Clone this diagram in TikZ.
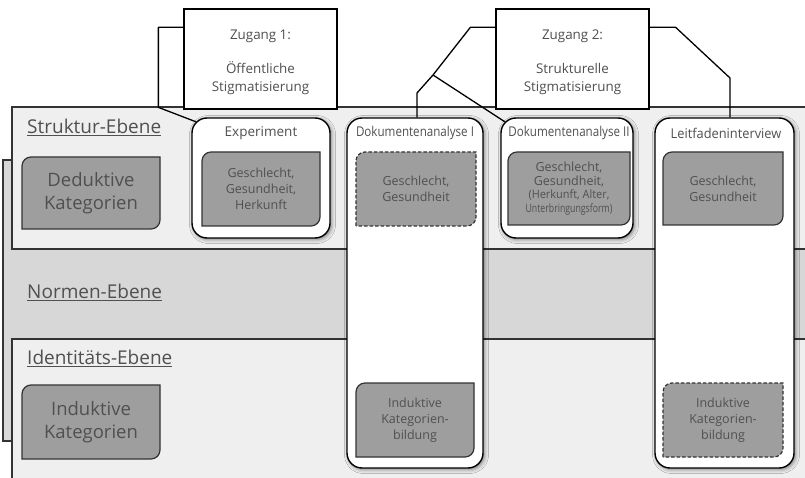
\documentclass[tikz,border=0pt]{standalone}
\usepackage{fontspec}
\setmainfont{Open Sans}
\usetikzlibrary{calc,shadows.blur}
\definecolor{txt}{HTML}{505050}
\definecolor{edge}{HTML}{333333}
\definecolor{normfill}{HTML}{D7D7D7}
\definecolor{levelfill}{HTML}{EFEFEF}
\definecolor{catfill}{HTML}{9E9E9E}

\newcommand\smallcond[2]{{\fontsize{11.5}{13}\selectfont\scalebox{#1}[1]{#2}}}

% category box: rounded at top left and bottom right only
% #1 name, #2 centre, #3 width, #4 height, #5 box style, #6 text style, #7 text
\newcommand\catbox[7]{%
  \draw[#5] ($#2+(-#3/2,-#4/2)$) -- ($#2+(-#3/2,#4/2-9)$)
    arc[start angle=180,end angle=90,radius=9pt]
    -- ($#2+(#3/2,#4/2)$) -- ($#2+(#3/2,-#4/2+9)$)
    arc[start angle=0,end angle=-90,radius=9pt] -- cycle;
  \node[#6] (#1) at #2 {#7};}

\tikzset{
  level/.style={draw=edge, line width=1.1pt},
  leveltitle/.style={anchor=west, text=txt, font=\fontsize{19}{21}\selectfont, inner sep=0},
  column/.style={draw=black, line width=1.4pt, fill=white, rounded corners=15pt,
    inner sep=0, blur shadow={shadow xshift=1.5pt, shadow yshift=-1.5pt,
    shadow blur radius=4pt, shadow opacity=50}},
  coltitle/.style={text=txt, font=\fontsize{13.5}{15}\selectfont, inner sep=0},
  zugang/.style={draw=black, line width=1.3pt, fill=white, minimum width=153pt,
    minimum height=100pt, inner sep=0},
  zugangtext/.style={align=center, text=txt, inner sep=0,
    font=\fontsize{13.4}{18}\selectfont},
  conn/.style={line width=1.3pt, line join=round},
  cat/.style={fill=catfill, draw=edge, line width=1.2pt},
  catdash/.style={cat, dash pattern=on 3.5pt off 2pt},
  ctext/.style={text=txt, font=\fontsize{12.5}{16}\selectfont, align=center, inner sep=0},
  bigtext/.style={text=txt, font=\fontsize{18.5}{23}\selectfont, align=center, inner sep=0},
}

\begin{document}
\begin{tikzpicture}[x=1pt,y=1pt]
\useasboundingbox (0,0) rectangle (805,477);

% the three levels
\begin{scope}
  \clip (0,0) rectangle (805,477);
  \draw[level, fill=normfill] (3,36) rectangle (830,317);
  \draw[level, fill=levelfill] (12,228) rectangle (830,370);
  \draw[level, fill=levelfill] (12,-20) rectangle (830,138);
\end{scope}

\node[leveltitle] (struktur) at (27,350) {\underline{Struktur-Ebene}};
\node[leveltitle] (normen) at (27,185) {\underline{Normen-Ebene}};
\node[leveltitle] (identitaet) at (27,119) {\underline{Identitäts-Ebene}};

\catbox{deduktiv}{(91,284)}{138}{72}{cat}{bigtext}{Deduktive\\Kategorien}
\catbox{induktiv}{(91,55)}{138}{74}{cat}{bigtext}{Induktive\\Kategorien}

% method columns
\node[column, minimum width=138pt, minimum height=120pt] (exp) at (261,299) {};
\node[column, minimum width=136pt, minimum height=350pt] (da1) at (415,184) {};
\node[column, minimum width=132pt, minimum height=120pt] (da2) at (567,299) {};
\node[column, minimum width=139pt, minimum height=350pt] (lf) at (724.5,184) {};

\node[coltitle] (exptitle) at (261,344) {Experiment};
\node[coltitle] (da1title) at (415,344) {\scalebox{0.86}[1]{Dokumentenanalyse I}};
\node[coltitle] (da2title) at (569,344) {\scalebox{0.86}[1]{Dokumentenanalyse II}};
\node[coltitle] (lftitle) at (726,344) {\scalebox{0.95}[1]{Leitfadeninterview}};

\catbox{expcat}{(261,288)}{118}{74}{cat}{ctext}{Geschlecht,\\Gesundheit,\\Herkunft}
\catbox{da1cat}{(416,288)}{120}{74}{catdash}{ctext}{Geschlecht,\\Gesundheit}
\catbox{da2cat}{(569,288.5)}{122}{73}{cat}{ctext}{Geschlecht,\\[-2.5pt]Gesundheit,\\[-2.5pt]\smallcond{0.95}{(Herkunft, Alter,}\\[-2.5pt]\smallcond{0.76}{Unterbringungsform)}}
\catbox{lfcat}{(723,288.5)}{120}{73}{cat}{ctext}{Geschlecht,\\Gesundheit}
\catbox{da1ind}{(415,57)}{118}{74}{cat}{ctext}{Induktive\\Kategorien-\\bildung}
\catbox{lfind}{(723,57)}{120}{74}{catdash}{ctext}{Induktive\\Kategorien-\\bildung}

% access boxes
\node[zugang] (z1) at (260.5,418) {};
\node[zugangtext] (z1text) at ([yshift=-3pt]z1.center) {Zugang 1:\\[16pt]Öffentliche\\Stigmatisierung};
\node[zugang] (z2) at (572.5,418) {};
\node[zugangtext] (z2text) at ([yshift=-3pt]z2.center) {Zugang 2:\\[16pt]Strukturelle\\Stigmatisierung};

% connectors
\coordinate (z2split) at (433,402);
\draw[conn] ([yshift=-19pt]z1.north west) -- ++(-25,0) -- ++(0,-80)
  -- ([xshift=4.4pt,yshift=-4.4pt]exp.north west);
\draw[conn] ([yshift=-19pt]z2.north west) -- ++(-25,0) -- (z2split)
  -- (417,384) -- ([xshift=2pt]da1.north);
\draw[conn] (z2split) -- ([xshift=4.4pt,yshift=-4.4pt]da2.north west);
\draw[conn] ([yshift=-19pt]z2.north east) -- ++(26,0) -- (730,399)
  -- ([xshift=5.5pt]lf.north);
\end{tikzpicture}
\end{document}
